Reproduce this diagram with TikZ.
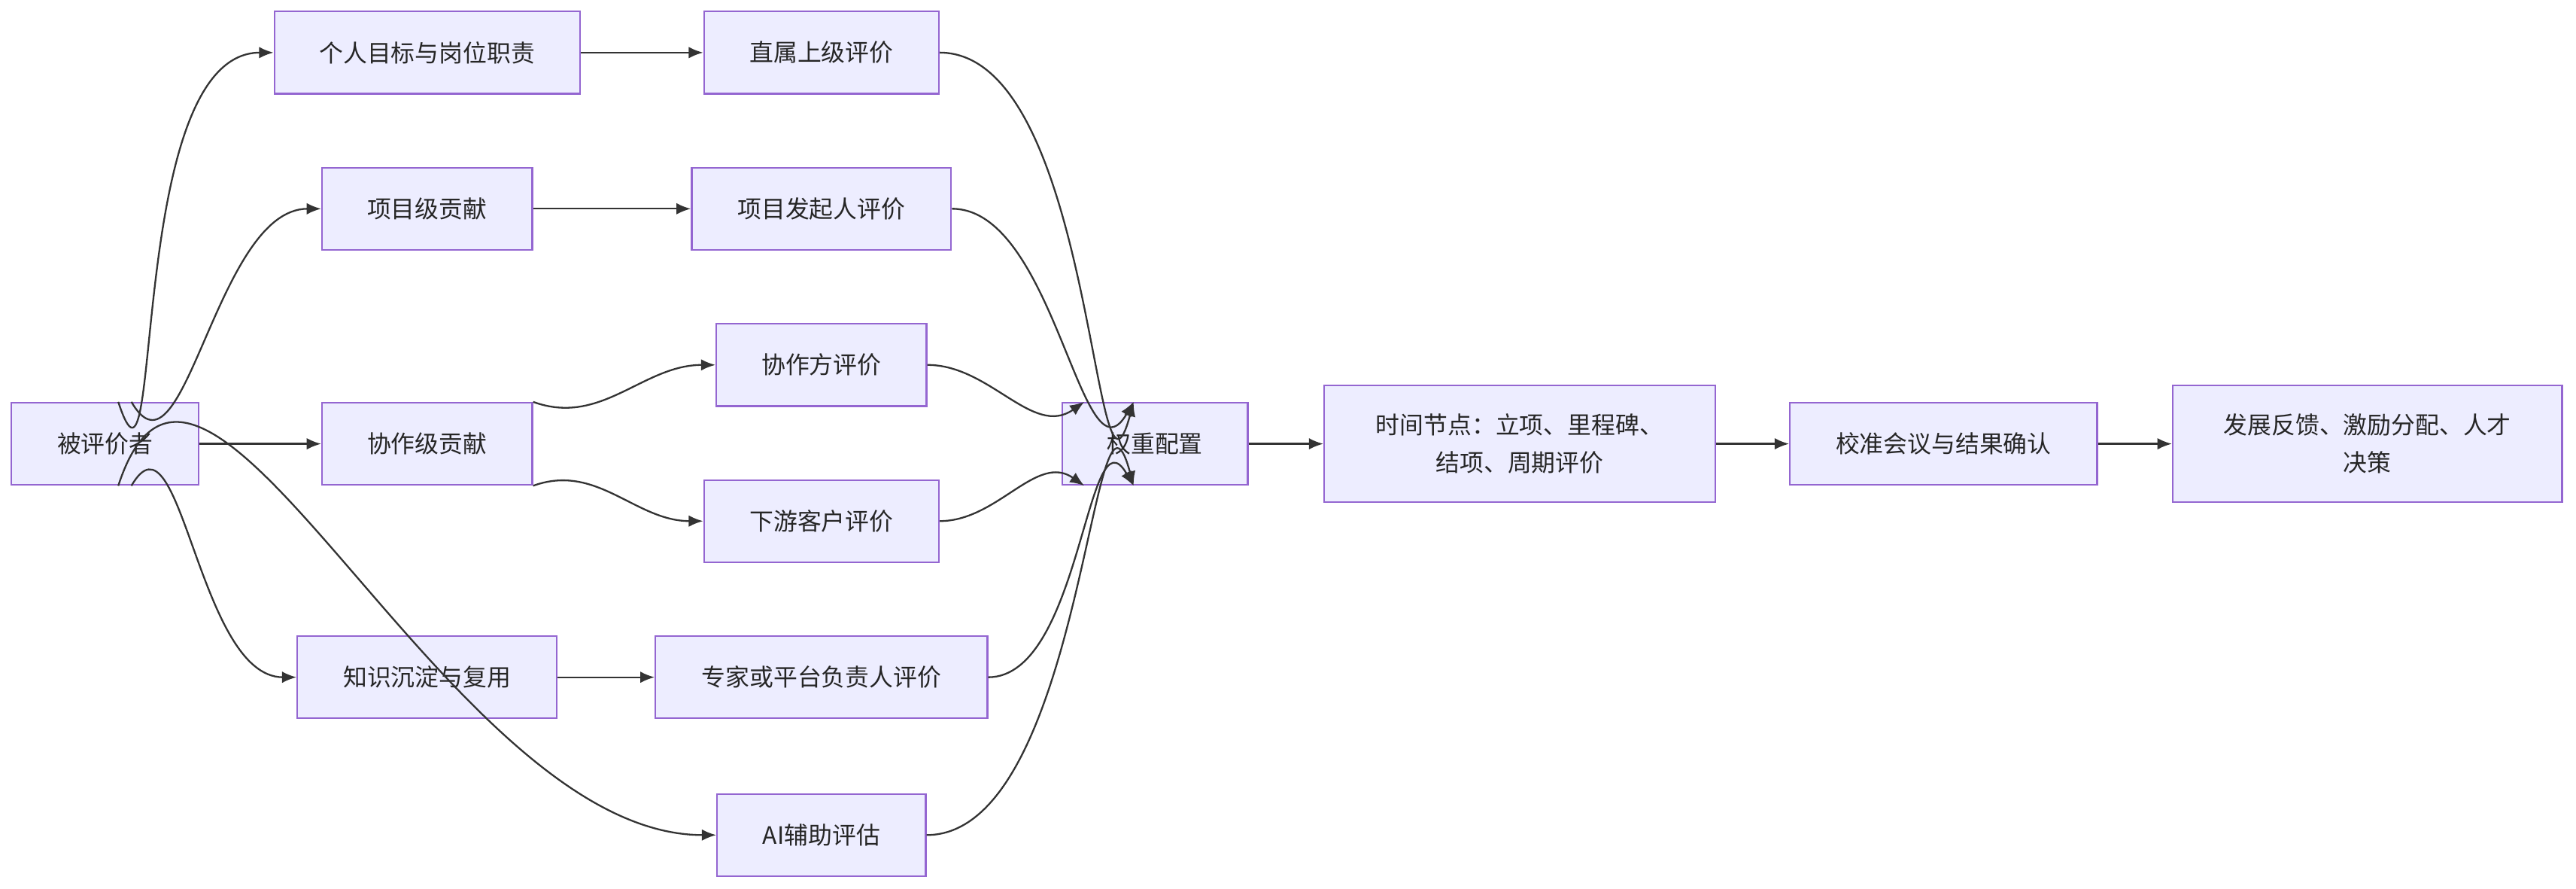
\documentclass[tikz,border=0pt]{standalone}
\usepackage{fontspec}
\setmainfont{Noto Sans CJK SC}
\usetikzlibrary{arrows.meta}
\begin{document}
\begin{tikzpicture}[x=0.02cm,y=-0.02cm,
    box/.style={draw=violet!60!blue!60, fill=blue!7, line width=0.6pt, minimum height=1cm, inner sep=0pt, align=center, font=\fontsize{8.3}{13}\selectfont, text=black!85},
    arr/.style={draw=black!80, line width=0.6pt, -{Latex[length=5pt,width=4pt]}}]
    \useasboundingbox (0,0) rectangle (1568,540.4);
    \node [box, minimum width=2.28cm] (Subject) at (64,270) {被评价者};
    \node [box, minimum width=3.72cm] (Goal) at (260,32) {个人目标与岗位职责};
    \node [box, minimum width=2.56cm] (Project) at (260,127) {项目级贡献};
    \node [box, minimum width=2.56cm] (Collab) at (260,270) {协作级贡献};
    \node [box, minimum width=3.16cm] (Knowledge) at (260,412) {知识沉淀与复用};
    \node [box, minimum width=2.86cm] (Manager) at (500,32) {直属上级评价};
    \node [box, minimum width=3.16cm] (Sponsor) at (500,127) {项目发起人评价};
    \node [box, minimum width=2.56cm] (Partner) at (500,222) {协作方评价};
    \node [box, minimum width=2.86cm] (Customer) at (500,317) {下游客户评价};
    \node [box, minimum width=4.04cm] (Expert) at (500,412) {专家或平台负责人评价};
    \node [box, minimum width=2.54cm] (AI) at (500,508) {AI辅助评估};
    \node [box, minimum width=2.26cm] (Weight) at (703,270) {权重配置};
    \node [box, minimum width=4.76cm, minimum height=1.42cm] (Time) at (925,270) {时间节点：立项、里程碑、\\结项、周期评价};
    \node [box, minimum width=3.74cm] (Calib) at (1183,270) {校准会议与结果确认};
    \node [box, minimum width=4.74cm, minimum height=1.42cm] (Result) at (1441,270) {发展反馈、激励分配、人才\\决策};

    \draw [arr] ([xshift=0.16cm]Subject.north) to[out=-72,in=180] (Goal.west);
    \draw [arr] ([xshift=0.32cm]Subject.north) to[out=-60,in=180] (Project.west);
    \draw [arr] (Subject) -- (Collab);
    \draw [arr] ([xshift=0.32cm]Subject.south) to[out=60,in=180] (Knowledge.west);
    \draw [arr] ([xshift=0.16cm]Subject.south) to[out=72,in=180] (AI.west);
    \draw [arr] (Goal) -- (Manager);
    \draw [arr] (Project) -- (Sponsor);
    \draw [arr] (Collab.north east) to[out=-20,in=180] (Partner.west);
    \draw [arr] (Collab.south east) to[out=20,in=180] (Customer.west);
    \draw [arr] (Knowledge) -- (Expert);
    \draw [arr] (Manager.east) to[out=0,in=-105] ([xshift=-0.26cm]Weight.north);
    \draw [arr] (Sponsor.east) to[out=0,in=-120] ([xshift=-0.26cm]Weight.north);
    \draw [arr] (Partner.east) to[out=0,in=-145] ([xshift=-0.86cm]Weight.north);
    \draw [arr] (Customer.east) to[out=0,in=145] ([xshift=-0.86cm]Weight.south);
    \draw [arr] (Expert.east) to[out=0,in=120] ([xshift=-0.26cm]Weight.south);
    \draw [arr] (AI.east) to[out=0,in=105] ([xshift=-0.26cm]Weight.south);
    \draw [arr] (Weight) -- (Time);
    \draw [arr] (Time) -- (Calib);
    \draw [arr] (Calib) -- (Result);
\end{tikzpicture}
\end{document}
